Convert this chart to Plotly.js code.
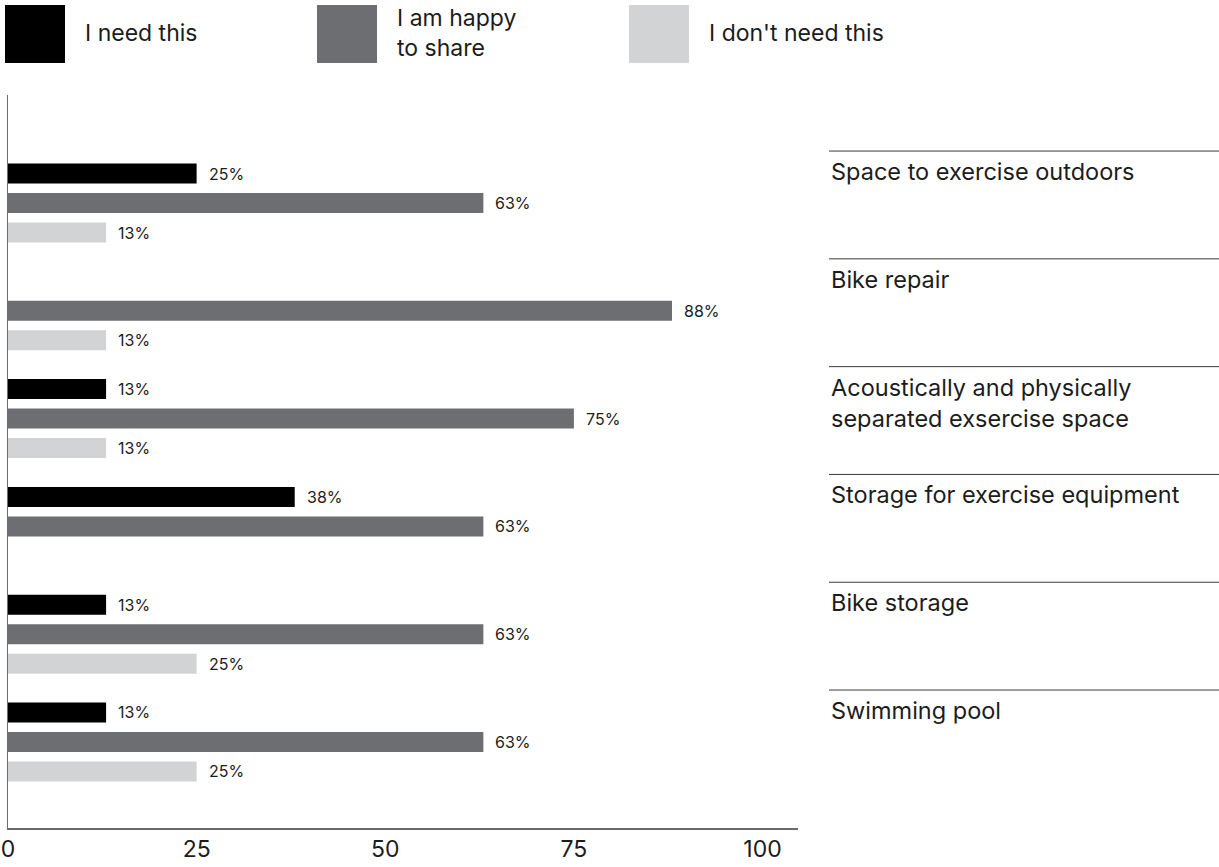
<!DOCTYPE html>
<html>
<head>
<meta charset="utf-8">
<script src="https://cdn.plot.ly/plotly-3.0.1.min.js"></script>
<style>
  html, body { margin: 0; padding: 0; background: #ffffff; }
  #chart { width: 1219px; height: 867px; }
</style>
</head>
<body>
<div id="chart"></div>
<script>
// Facilities survey: share of answers per facility (percent)
const categories = [
  'Space to exercise outdoors',
  'Bike repair',
  'Acoustically and physically<br>separated exsercise space',
  'Storage for exercise equipment',
  'Bike storage',
  'Swimming pool'
];
const seriesNames = ['I need this', 'I am happy<br>to share', "I don't need this"];
const needThis     = [25, null, 13, 38, 13, 13];
const happyToShare = [63, 88, 75, 63, 63, 63];
const dontNeedThis = [13, 13, 13, null, 25, 25];
const xTickValues  = [0, 25, 50, 75, 100];

const seriesValues = [needThis, happyToShare, dontNeedThis];
const seriesColors = ['#000000', '#6d6e71', '#d1d3d4'];
const textColor = '#1c1c1c';
const fontFamily = 'Inter, "Liberation Sans", sans-serif';

// bar grouping geometry (category units)
const barGap = 0.179;
const barGroupGap = 0.322;
const slot = (1 - barGap) / seriesValues.length;

const positions = categories.map((_, i) => i);

const traces = seriesValues.map((vals, k) => ({
  type: 'bar',
  orientation: 'h',
  name: seriesNames[k].replace('<br>', ' '),
  x: vals,
  y: positions,
  marker: { color: seriesColors[k], line: { width: 0 } },
  hoverinfo: 'skip'
}));

const annotations = [];
const shapes = [];

// value labels just past the end of each bar
seriesValues.forEach((vals, k) => {
  vals.forEach((v, i) => {
    if (v === null) return;
    annotations.push({
      xref: 'x', yref: 'y',
      x: v, y: i + (k - 1) * slot,
      text: v + '%',
      showarrow: false,
      xanchor: 'left', yanchor: 'middle',
      xshift: 10,
      font: { family: fontFamily, size: 16, color: textColor }
    });
  });
});

// category labels on the right, each under a thin rule
const labelX0 = 1 + (829 - 798) / 790;
const ruleX1 = 1 + (1219 - 798) / 790;
categories.forEach((c, i) => {
  shapes.push({
    type: 'line', xref: 'paper', yref: 'y',
    x0: labelX0, x1: ruleX1, y0: i - 0.482, y1: i - 0.482,
    line: { color: '#3a3a3a', width: 1 }
  });
  annotations.push({
    xref: 'paper', yref: 'y',
    x: labelX0, y: i - 0.482,
    yshift: -4,
    text: c,
    showarrow: false,
    xanchor: 'left', yanchor: 'top', align: 'left',
    font: { family: fontFamily, size: 23.5, color: textColor }
  });
});

// key along the top: colour swatches with their captions
const keyX = [5, 317, 629];
keyX.forEach((px, k) => {
  shapes.push({
    type: 'rect', xref: 'paper', yref: 'paper',
    x0: (px - 8) / 790, x1: (px + 60 - 8) / 790,
    y0: (828 - 63) / 733, y1: (828 - 5) / 733,
    fillcolor: seriesColors[k], line: { width: 0 }
  });
  annotations.push({
    xref: 'paper', yref: 'paper',
    x: (px + 78 - 8) / 790, y: (828 - 33) / 733,
    text: seriesNames[k],
    showarrow: false,
    xanchor: 'left', yanchor: 'middle', align: 'left',
    font: { family: fontFamily, size: 23, color: textColor }
  });
});

const layout = {
  width: 1219,
  height: 867,
  margin: { l: 8, r: 421, t: 95, b: 39, pad: 0 },
  paper_bgcolor: '#ffffff',
  plot_bgcolor: '#ffffff',
  barmode: 'group',
  bargap: barGap,
  bargroupgap: barGroupGap,
  showlegend: false,
  font: { family: fontFamily, color: textColor },
  xaxis: {
    range: [0, 104.7],
    tickvals: xTickValues,
    ticktext: xTickValues.map(String),
    tickfont: { family: fontFamily, size: 23, color: textColor },
    ticks: '',
    showgrid: false,
    zeroline: false,
    showline: true,
    linecolor: '#6b6b6b',
    linewidth: 1.5
  },
  yaxis: {
    range: [5.798, -1.002],
    showticklabels: false,
    ticks: '',
    showgrid: false,
    zeroline: false,
    showline: true,
    linecolor: '#6b6b6b',
    linewidth: 1.5
  },
  shapes: shapes,
  annotations: annotations
};

Plotly.newPlot('chart', traces, layout, { staticPlot: true, displayModeBar: false });
</script>
</body>
</html>
